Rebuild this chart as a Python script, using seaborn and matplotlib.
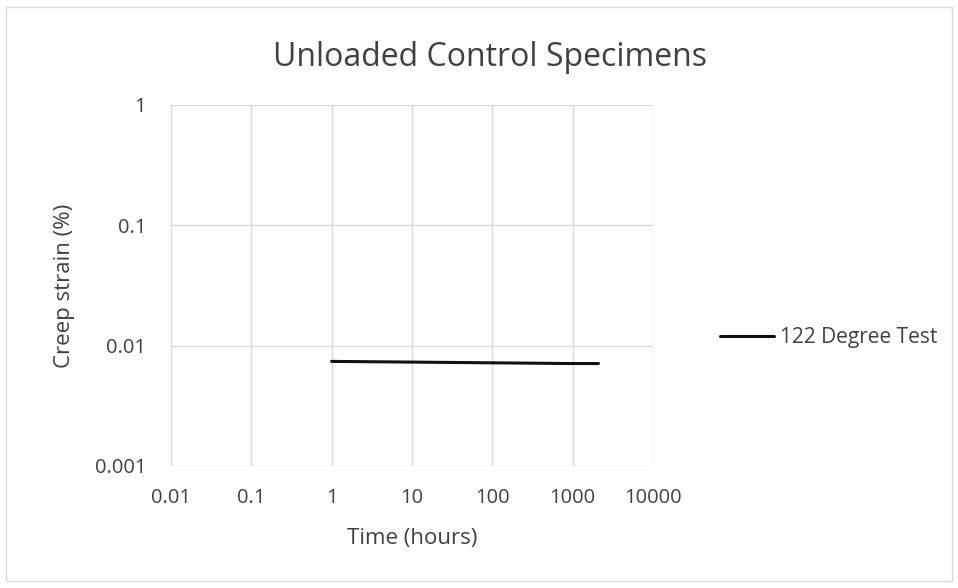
import matplotlib
matplotlib.use("Agg")
import matplotlib.pyplot as plt
import matplotlib.ticker as mticker
import pandas as pd
import seaborn as sns

# data
time_hours = [1, 10, 100, 1000, 2100]
creep_strain = [0.0074, 0.0073, 0.0072, 0.0071, 0.0071]
series_name = "122 Degree Test"
x_ticks = [0.01, 0.1, 1, 10, 100, 1000, 10000]
x_labels = ["0.01", "0.1", "1", "10", "100", "1000", "10000"]
y_ticks = [0.001, 0.01, 0.1, 1]
y_labels = ["0.001", "0.01", "0.1", "1"]

df = pd.DataFrame({"Time": time_hours, "Strain": creep_strain, "Series": series_name})

sns.set_style("white")
plt.rcParams["font.family"] = ["Open Sans", "DejaVu Sans"]
text_col = "#404040"

fig = plt.figure(figsize=(9.58, 5.88), dpi=100)
ax = fig.add_axes([0.1785, 0.2075, 0.503, 0.614])

sns.lineplot(data=df, x="Time", y="Strain", hue="Series", palette=["#111111"],
             linewidth=2.2, ax=ax)
ax.set_xscale("log")
ax.set_yscale("log")
ax.set_xlim(0.01, 10000)
ax.set_ylim(0.001, 1)
ax.xaxis.set_major_locator(mticker.FixedLocator(x_ticks))
ax.yaxis.set_major_locator(mticker.FixedLocator(y_ticks))
ax.xaxis.set_minor_locator(mticker.NullLocator())
ax.yaxis.set_minor_locator(mticker.NullLocator())
ax.set_xticklabels(x_labels)
ax.set_yticklabels(y_labels)
ax.tick_params(axis="x", length=0, labelsize=14.5, colors=text_col, pad=16)
ax.tick_params(axis="y", length=0, labelsize=14.5, colors=text_col, pad=18)
ax.grid(True, color="#d9d9d9", linewidth=1)
for s in ax.spines.values():
    s.set_visible(False)

ax.set_xlabel("Time (hours)", fontsize=16, color=text_col, labelpad=14)
ax.set_ylabel("Creep strain (%)", fontsize=16, color=text_col, labelpad=14)
fig.text(0.511, 0.903, "Unloaded Control Specimens", ha="center", va="center",
         fontsize=23, color=text_col)

leg = ax.legend(loc="center left", bbox_to_anchor=(1.1, 0.355), frameon=False,
                fontsize=15, handlelength=2.6, handletextpad=0.3)
for t in leg.get_texts():
    t.set_color(text_col)

border = plt.Rectangle((0.006, 0.012), 0.988, 0.976, transform=fig.transFigure,
                       fill=False, edgecolor="#d9d9d9", linewidth=1)
fig.patches.append(border)

fig.savefig("out.png", dpi=100)
